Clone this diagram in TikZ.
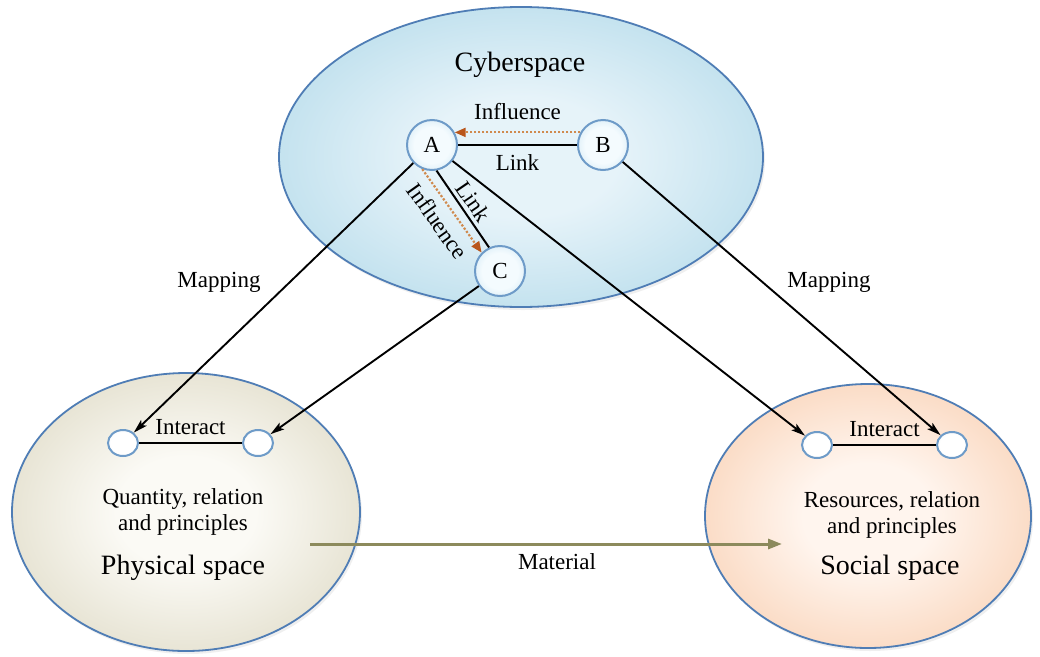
\documentclass[tikz,border=0pt]{standalone}
\usepackage{fontspec}
\setmainfont{Liberation Serif}
\usetikzlibrary{arrows.meta,shapes.geometric,calc,shadows}
\definecolor{cybin}{HTML}{E6F3F9}
\definecolor{cybout}{HTML}{8CC7DE}
\definecolor{phyin}{HTML}{FBFAF5}
\definecolor{phyout}{HTML}{C8C1A0}
\definecolor{socin}{HTML}{FFF5EE}
\definecolor{socout}{HTML}{F4B385}
\definecolor{rim}{HTML}{4F7DB5}
\definecolor{nodein}{HTML}{F4FBFE}
\definecolor{nodeout}{HTML}{A6D1E8}
\definecolor{smallout}{HTML}{DDE4EA}
\definecolor{noderim}{HTML}{6E9BC8}
\definecolor{infl}{HTML}{B9561C}
\definecolor{infldot}{HTML}{D08A4E}
\definecolor{matc}{HTML}{8C8A5C}
\pgfdeclareradialshading{cybshade}{\pgfpoint{0bp}{0bp}}{color(0bp)=(cybin); color(10bp)=(cybin); color(50bp)=(cybout)}
\pgfdeclareradialshading{physhade}{\pgfpoint{0bp}{0bp}}{color(0bp)=(phyin); color(10bp)=(phyin); color(50bp)=(phyout)}
\pgfdeclareradialshading{socshade}{\pgfpoint{0bp}{0bp}}{color(0bp)=(socin); color(10bp)=(socin); color(50bp)=(socout)}
\pgfdeclareradialshading{ndshade}{\pgfpoint{0bp}{0bp}}{color(0bp)=(nodein); color(18bp)=(nodein); color(50bp)=(nodeout)}
\pgfdeclareradialshading{smshade}{\pgfpoint{0bp}{0bp}}{color(0bp)=(white); color(20bp)=(white); color(50bp)=(smallout)}
\begin{document}
\begin{tikzpicture}[x=1pt,y=-1pt,
  every node/.style={font=\fontsize{23}{26}\selectfont},
  space/.style={ellipse, inner sep=0pt, draw=rim, line width=1.8pt,
    drop shadow={opacity=0.12, shadow xshift=2pt, shadow yshift=-3pt}},
  bignode/.style={circle, minimum size=50pt, inner sep=0pt, shading=ndshade, draw=noderim, line width=2pt},
  smallnode/.style={ellipse, minimum width=30pt, minimum height=26pt, inner sep=0pt, shading=smshade, draw=noderim, line width=2pt},
  maparrow/.style={-{Stealth[length=14pt,width=8pt,inset=3pt]}, line width=1.9pt, black},
  linkline/.style={line width=2pt, black},
  inflarrow/.style={draw=infldot, line width=2.2pt, dash pattern=on 2.2pt off 1.8pt,
    -{Triangle[length=11pt,width=9pt,fill=infl,color=infl]}},
  matarrow/.style={draw=matc, line width=3pt, -{Triangle[length=14pt,width=10pt]}},
  title/.style={font=\fontsize{28}{32}\selectfont}]
\fill[white] (0,0) rectangle (1040,656);
\useasboundingbox (0,0) rectangle (1040,656);
% spaces
\node[space, shading=cybshade, minimum width=484pt, minimum height=300pt] (cyb) at (521,157) {};
\node[space, shading=physhade, minimum width=348pt, minimum height=278pt] (phys) at (186,512) {};
\node[space, shading=socshade, minimum width=326pt, minimum height=264pt] (soc) at (868,516) {};
% titles and texts
\node[title] (cybt) at (520,65) {Cyberspace};
\node[align=center] (pq) at (183,512) {Quantity, relation\\and principles};
\node[title] (pt) at (183,568) {Physical space};
\node[align=center] (sq) at (892,515) {Resources, relation\\and principles};
\node[title] (st) at (890,568) {Social space};
% cyberspace nodes
\node[bignode] (A) at (432,145) {A};
\node[bignode] (B) at (603,145) {B};
\node[bignode] (C) at (500,271) {C};
% small nodes
\node[smallnode] (p1) at (123,443) {};
\node[smallnode] (p2) at (258,443) {};
\node[smallnode] (s1) at (817,445) {};
\node[smallnode] (s2) at (952,445) {};
% links in cyberspace
\draw[linkline] (A) -- node[below=5pt] {Link} (B);
\draw[inflarrow] (B.151) -- node[above=8pt] {Influence} (A.29);
\draw[linkline] (A.-80) -- node[sloped, above=1pt] {Link} (C.115);
\draw[inflarrow] (A.-112) -- node[sloped, below=5pt] {Influence} (C.135);
% mapping
\draw[maparrow] (A) -- (p1);
\draw[maparrow] (C) -- (p2);
\draw[maparrow] (A) -- (s1);
\draw[maparrow] (B) -- (s2);
\node (map1) at (219,282) {Mapping};
\node (map2) at (829,282) {Mapping};
% interact
\draw[linkline] (p1) -- node[above=4pt] {Interact} (p2);
\draw[linkline] (s1) -- node[above=4pt] {Interact} (s2);
% material
\coordinate (m1) at (310,544);
\coordinate (m2) at (782,544);
\draw[matarrow] (m1) -- (m2);
\node (mat) at (557,562) {Material};
\end{tikzpicture}
\end{document}
